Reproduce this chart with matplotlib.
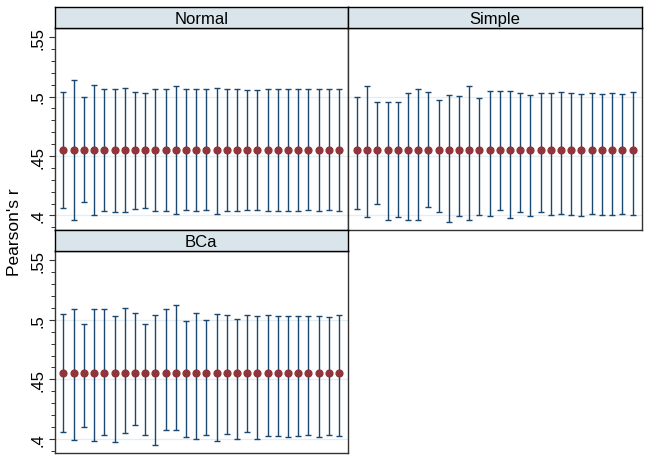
import matplotlib.pyplot as plt
import numpy as np
from matplotlib.ticker import MultipleLocator, FixedLocator

plt.rcParams['font.family'] = ['Liberation Sans', 'DejaVu Sans']

# ---- data ----
methods = ['Normal', 'Simple', 'BCa']
estimate = 0.455
n_reps = 28

normal_hi = [.504, .514, .500, .5095, .506, .5067, .5075, .5042, .503, .5067,
             .5067, .5087, .5061, .5061, .5061, .5075, .5061, .5061, .5053, .5053,
             .5061, .5067, .5067, .5061, .5061, .5061, .5061, .5061]
normal_lo = [.4062, .3964, .411, .4003, .404, .4026, .4026, .4057, .4062, .4037,
             .4037, .4014, .4045, .4037, .4045, .4014, .4037, .4037, .4045, .4045,
             .4037, .4037, .4037, .4037, .4045, .4037, .4045, .4037]

simple_hi = [.4995, .5087, .4957, .4957, .4957, .5028, .5064, .5039, .4969, .5017,
             .5008, .5087, .4990, .5050, .5045, .5050, .5028, .5010, .5028, .5028,
             .5039, .5028, .5019, .5028, .5019, .5028, .5019, .5039]
simple_lo = [.4058, .3984, .4096, .3966, .3984, .3966, .3966, .4075, .4028, .3944,
             .3995, .3966, .4006, .3995, .4048, .3975, .4028, .3998, .4026, .4006,
             .4014, .4006, .3995, .4014, .4006, .4006, .4014, .4006]

bca_hi = [.5050, .5087, .4964, .5087, .5087, .5031, .5098, .5059, .4969, .5042,
          .5087, .5128, .4989, .5059, .5000, .5050, .5042, .5008, .5042, .5031,
          .5042, .5031, .5031, .5031, .5031, .5031, .5020, .5042]
bca_lo = [.4059, .3989, .4103, .3980, .4031, .3969, .4050, .4120, .4031, .3950,
          .4070, .4070, .4011, .4000, .4031, .3980, .4039, .4000, .4059, .4000,
          .4020, .4020, .4011, .4020, .4031, .4011, .4031, .4020]

yticks = [.4, .45, .5, .55]
ytick_labels = ['.4', '.45', '.5', '.55']

# ---- layout in pixels ----
W, H = 651, 464
navy = '#1a476f'
maroon = '#90353b'
strip_col = '#d9e5ea'
grid_col = '#e4edf1'


def box(x0, y0, x1, y1):
    return [x0 / W, 1 - y1 / H, (x1 - x0) / W, (y1 - y0) / H]


fig = plt.figure(figsize=(W / 100, H / 100), dpi=100)
fig.patch.set_facecolor('white')

panels = [
    ('Normal', normal_lo, normal_hi, (54.5, 8, 348, 29), (54.5, 29, 348, 231), True),
    ('Simple', simple_lo, simple_hi, (348, 8, 641.5, 29), (348, 29, 641.5, 231), False),
    ('BCa', bca_lo, bca_hi, (54.5, 231, 348, 252.3), (54.5, 252.3, 348, 454.3), True),
]

x = np.arange(1, n_reps + 1)

for name, lo, hi, sbox, pbox, show_y in panels:
    lo = np.array(lo)
    hi = np.array(hi)
    est = np.full(n_reps, estimate)

    ax = fig.add_axes(box(*pbox))
    ax.set_xlim(0.12, n_reps + 0.88)
    ax.set_ylim(0.3878, 0.5576)
    for g in [.4, .45, .5]:
        ax.axhline(g, color=grid_col, lw=0.9, zorder=0)

    ax.errorbar(x, est, yerr=[est - lo, hi - est], fmt='none',
                ecolor=navy, elinewidth=1.0, capsize=2.5, capthick=1.0, zorder=2)
    ax.plot(x, est, 'o', color=maroon, markersize=4.9, zorder=3)

    for s in ax.spines.values():
        s.set_color('#333333')
        s.set_linewidth(1.0)
    ax.set_xticks([])
    if show_y:
        ax.yaxis.set_major_locator(FixedLocator(yticks))
        ax.set_yticklabels(ytick_labels, rotation=90, va='center', fontsize=12)
        ax.yaxis.set_minor_locator(MultipleLocator(0.01))
        ax.tick_params(axis='y', which='major', length=4.5, width=0.8,
                       color='#333333', pad=2)
        ax.tick_params(axis='y', which='minor', length=3, width=0.7,
                       color='#333333')
    else:
        ax.set_yticks([])

    sax = fig.add_axes(box(*sbox))
    sax.set_facecolor(strip_col)
    sax.set_xticks([])
    sax.set_yticks([])
    for s in sax.spines.values():
        s.set_color('black')
        s.set_linewidth(1.0)
    sax.text(0.5, 0.45, name, ha='center', va='center', fontsize=12,
             transform=sax.transAxes)

fig.text(15 / W, 1 - 232 / H, "Pearson's r", rotation=90, ha='center',
         va='center', fontsize=12.5)

fig.savefig('out.png', dpi=100, facecolor='white')
